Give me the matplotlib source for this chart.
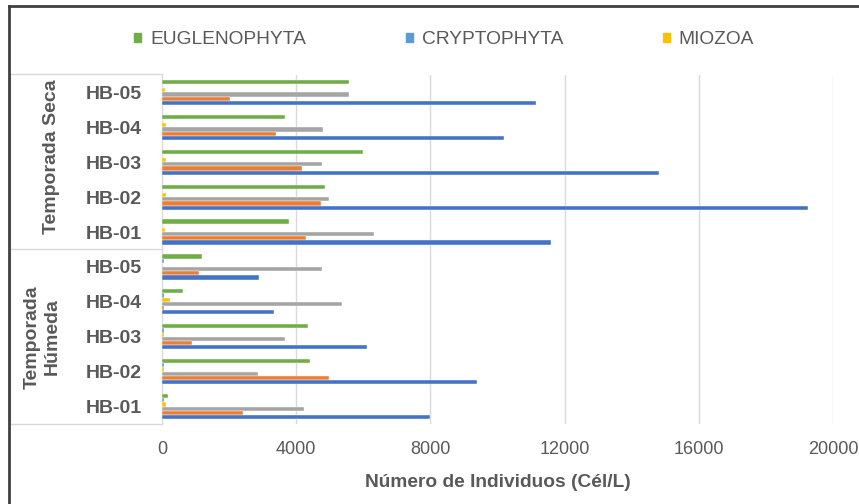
# -*- coding: utf-8 -*-
"""Abundancia de fitoplancton por estación (HB-01..HB-05) y temporada."""

import numpy as np
import matplotlib
matplotlib.use("Agg")
import matplotlib.pyplot as plt
from matplotlib.patches import Patch
from matplotlib.lines import Line2D

# ──────────────────────────────────────────────
# Datos (Cél/L), de arriba hacia abajo
# ──────────────────────────────────────────────
seasons = ["Temporada Seca", "Temporada\nHúmeda"]
stations = ["HB-05", "HB-04", "HB-03", "HB-02", "HB-01",
            "HB-05", "HB-04", "HB-03", "HB-02", "HB-01"]

euglenophyta = [5560, 3670, 5980, 4850, 3800, 1180, 630, 4340, 4420, 170]
cryptophyta = [0, 0, 0, 0, 0, 50, 50, 50, 50, 50]
miozoa = [100, 130, 130, 120, 100, 0, 250, 50, 50, 130]
serie_gris = [5560, 4810, 4770, 4980, 6320, 4770, 5360, 3670, 2870, 4220]
serie_naranja = [2020, 3410, 4180, 4730, 4300, 1100, 50, 900, 4980, 2400]
serie_azul = [11150, 10190, 14820, 19240, 11580, 2900, 3330, 6120, 9400, 8000]

# colores tipo Excel
C_GREEN = "#70AD47"
C_LBLUE = "#5B9BD5"
C_YELLOW = "#FFC000"
C_GRAY = "#A5A5A5"
C_ORANGE = "#ED7D31"
C_BLUE = "#4472C4"
TXT = "#595959"
LINE = "#D9D9D9"

plt.rcParams["font.family"] = ["Liberation Sans", "DejaVu Sans"]
FS = 13.8

W, H = 859, 504
fig = plt.figure(figsize=(W / 100, H / 100), dpi=100)
ax = fig.add_axes([162 / W, 1 - 424 / H, (833 - 162) / W, (424 - 75) / H])

series = [
    (euglenophyta, C_GREEN),
    (cryptophyta, C_LBLUE),
    (miozoa, C_YELLOW),
    (serie_gris, C_GRAY),
    (serie_naranja, C_ORANGE),
    (serie_azul, C_BLUE),
]
pos = np.arange(len(stations))
slot = 0.12
for k, (vals, col) in enumerate(series):
    ax.barh(pos + (k - 2.5) * slot, vals, height=slot, color=col,
            edgecolor="white", linewidth=0.3, zorder=3)

ax.set_ylim(len(stations) - 0.5, -0.5)
ax.set_xlim(0, 20000)
ax.set_xticks(range(0, 20001, 4000))
ax.tick_params(axis="x", length=0, pad=12.5, labelsize=13, labelcolor=TXT)
ax.set_yticks(pos)
ax.set_yticklabels(stations, fontsize=14, fontweight="bold", color=TXT)
ax.tick_params(axis="y", length=0, pad=14.5)
ax.grid(axis="x", color=LINE, linewidth=1, zorder=0)
for s in ["top", "right", "bottom"]:
    ax.spines[s].set_visible(False)
ax.spines["left"].set_color(LINE)
ax.set_xlabel("Número de Individuos (Cél/L)", fontsize=FS, fontweight="bold",
              color=TXT, labelpad=11)

# caja de categorías a la izquierda
def fline(x0, y0, x1, y1, **kw):
    fig.add_artist(Line2D([x0 / W, x1 / W], [1 - y0 / H, 1 - y1 / H], **kw))

for args in [(10, 74, 162, 74), (10, 74, 10, 424), (10, 424, 162, 424), (10, 249, 162, 249)]:
    fline(*args, color=LINE, linewidth=1)

fig.text(52 / W, 1 - 157 / H, seasons[0], rotation=90, ha="center", va="center",
         fontsize=14, fontweight="bold", color=TXT)
fig.text(42 / W, 1 - 337 / H, seasons[1], rotation=90, ha="center", va="center",
         fontsize=14, fontweight="bold", color=TXT, linespacing=1.2,
         multialignment="center")

# marco exterior (recortado a la derecha y abajo)
fline(9, 6, 9, 504, color="#404040", linewidth=2)
fline(9, 6, 859, 6, color="#404040", linewidth=2)

handles = [Patch(color=C_GREEN), Patch(color=C_LBLUE), Patch(color=C_YELLOW)]
fig.legend(handles, ["EUGLENOPHYTA", "CRYPTOPHYTA", "MIOZOA"], ncol=3,
           loc="center", bbox_to_anchor=(444 / W, 1 - 40 / H), frameon=False,
           fontsize=FS, labelcolor=TXT, handlelength=0.38, handleheight=0.38,
           handletextpad=0.45, columnspacing=5.2)

fig.savefig("out.png", dpi=100)
